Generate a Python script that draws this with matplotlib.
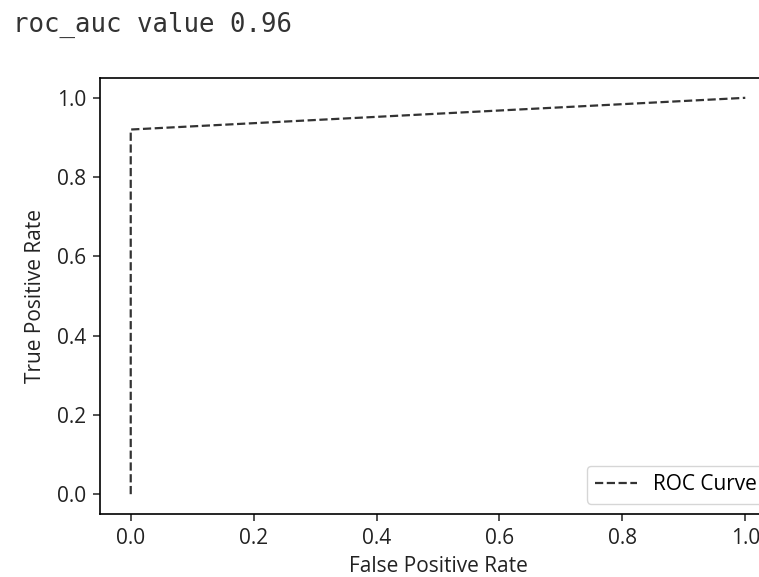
import numpy as np
import matplotlib
matplotlib.use('Agg')
import matplotlib.pyplot as plt

# roc curve points
fpr = [0.0, 0.0, 1.0]
tpr = [0.0, 0.92, 1.0]
roc_auc = 0.96

plt.rcParams['font.family'] = ['Open Sans', 'DejaVu Sans']

fig = plt.figure(figsize=(7.59, 5.77), dpi=100)
fig.text(13 / 759, 1 - 25 / 577, 'roc_auc value %.2f' % roc_auc, family='DejaVu Sans Mono',
         fontsize=18.5, color='#333333', va='center', ha='left')

# axes runs past the right edge like the cropped screenshot
ax = fig.add_axes([100 / 759, 63 / 577, 676 / 759, 436 / 577])
ax.plot(fpr, tpr, '--', color='#333333', lw=1.6, label='ROC Curve')
ax.set_xlim(-0.05, 1.05)
ax.set_ylim(-0.05, 1.05)
ax.set_xticks(np.arange(0, 1.01, 0.2))
ax.set_yticks(np.arange(0, 1.01, 0.2))
ax.tick_params(labelsize=15, length=5, width=1.1, colors='#222222', pad=5)
for s in ax.spines.values():
    s.set_linewidth(1.2)
ax.set_xlabel('False Positive Rate', fontsize=15, color='#222222', labelpad=5)
ax.set_ylabel('True Positive Rate', fontsize=15, color='#222222', labelpad=8)
ax.legend(loc='lower right', fontsize=15)

fig.savefig('out.png', dpi=100)
